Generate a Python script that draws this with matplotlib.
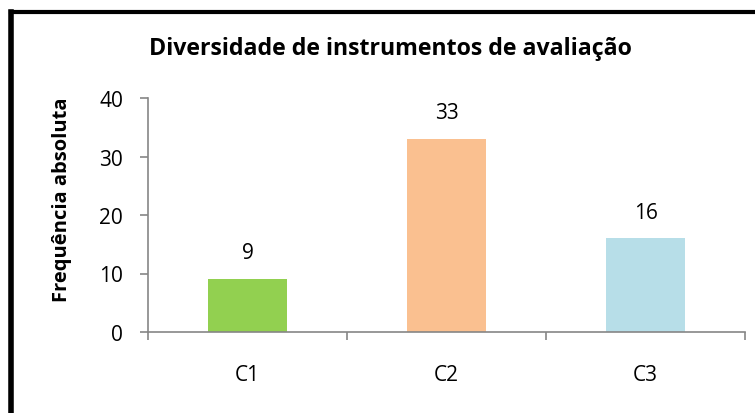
import matplotlib
matplotlib.use("Agg")
import matplotlib.pyplot as plt
from matplotlib.lines import Line2D

categories = ["C1", "C2", "C3"]
values = [9, 33, 16]
colors = ["#92D050", "#FAC090", "#B7DEE8"]
title = "Diversidade de instrumentos de avaliação"
ylabel = "Frequência absoluta"
yticks = [0, 10, 20, 30, 40]

plt.rcParams['font.family'] = ['Open Sans', 'DejaVu Sans']

fig = plt.figure(figsize=(7.55, 4.14), dpi=100)
ax = fig.add_axes([148/755, 1-333/414, (745-148)/755, (333-99)/414])

x = list(range(len(categories)))
ax.bar(x, values, width=0.4, color=colors, zorder=2)
for xi, v in zip(x, values):
    ax.annotate(str(v), (xi, v), xytext=(0, 19), textcoords="offset points",
                ha="center", va="center", fontsize=15)

ax.set_xlim(-0.5, len(categories) - 0.5)
ax.set_ylim(0, 40)
ax.set_yticks(yticks)
ax.set_xticks(x)
ax.set_xticklabels(categories, fontsize=15)
ax.tick_params(axis='x', length=0, pad=23)
ax.set_xticks([i - 0.5 for i in range(len(categories) + 1)], minor=True)
ax.tick_params(axis='x', which='minor', length=6, color="#868686", width=1.2)
ax.tick_params(axis='y', length=6, color="#868686", width=1.2, labelsize=15, pad=12)

for s in ["top", "right"]:
    ax.spines[s].set_visible(False)
for s in ["left", "bottom"]:
    ax.spines[s].set_color("#868686")
    ax.spines[s].set_linewidth(1.2)

fig.text(390/755, 1-49/414, title, ha="center", va="center", fontsize=16.7, fontweight="bold")
fig.text(62/755, 1-200/414, ylabel, ha="center", va="center", rotation=90, fontsize=14.5, fontweight="bold")

yb = 1 - 12.5/414
xb = 10.5/755
fig.add_artist(Line2D([xb, xb], [0, yb], transform=fig.transFigure, color="black", linewidth=4, solid_capstyle="projecting"))
fig.add_artist(Line2D([xb, 1], [yb, yb], transform=fig.transFigure, color="black", linewidth=3, solid_capstyle="projecting"))

fig.savefig("out.png", dpi=100)
